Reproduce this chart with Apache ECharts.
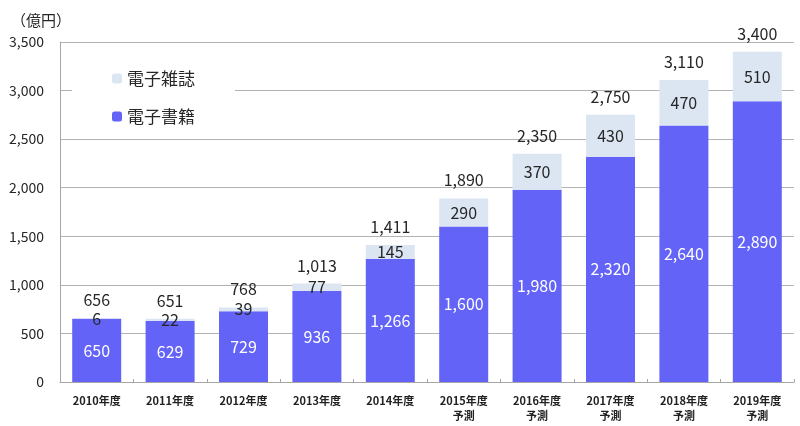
<!DOCTYPE html>
<html><head><meta charset="utf-8">
<script src="https://cdn.jsdelivr.net/npm/echarts@6/dist/echarts.min.js"></script>
<style>html,body{margin:0;padding:0;background:#fff}#c{width:800px;height:426px}</style>
</head><body><div id="c"></div>
<script>
const categories = ['2010年度','2011年度','2012年度','2013年度','2014年度','2015年度\n予測','2016年度\n予測','2017年度\n予測','2018年度\n予測','2019年度\n予測'];
const ebooks = [650, 629, 729, 936, 1266, 1600, 1980, 2320, 2640, 2890];
const emagazines = [6, 22, 39, 77, 145, 290, 370, 430, 470, 510];
const totals = [656, 651, 768, 1013, 1411, 1890, 2350, 2750, 3110, 3400];

const FONT = '"Noto Sans CJK JP", "Noto Sans", sans-serif';
const fmt = v => Number(v).toLocaleString('en-US');
const chart = echarts.init(document.getElementById('c'), null, {renderer:'canvas'});
chart.setOption({
  animation: false,
  textStyle: {fontFamily: FONT},
  grid: {left: 60, right: 6, top: 42, bottom: 44, containLabel: false},
  legend: {
    data: ['電子雑誌', '電子書籍'],
    orient: 'vertical', left: 72, top: 50,
    backgroundColor: '#ffffff',
    padding: [20, 40, 14, 40],
    itemWidth: 10, itemHeight: 10, itemGap: 21,
    textStyle: {fontSize: 17, color: '#262626', fontFamily: FONT}
  },
  xAxis: {
    type: 'category', data: categories,
    axisLine: {lineStyle: {color: '#a6a6a6', width: 1}},
    axisTick: {show: true, inside: true, length: 3, lineStyle: {color: '#a6a6a6'}},
    axisLabel: {fontSize: 11, fontWeight: 'bold', color: '#222', margin: 11, lineHeight: 15, fontFamily: FONT}
  },
  yAxis: {
    type: 'value', min: 0, max: 3500, interval: 500,
    name: '（億円）', nameLocation: 'end', nameGap: 14,
    nameTextStyle: {fontSize: 15, color: '#262626', align: 'center', padding: [0, 38, 0, 0]},
    axisLine: {show: true, lineStyle: {color: '#a6a6a6'}},
    axisTick: {show: false},
    splitLine: {lineStyle: {color: '#b3b3b3', width: 1}},
    axisLabel: {fontSize: 14, color: '#262626', margin: 16, formatter: v => fmt(v)}
  },
  series: [
    {
      name: '電子書籍', type: 'bar', stack: 's', barWidth: 49, data: ebooks,
      itemStyle: {color: '#6363f8'},
      label: {show: true, position: 'inside', color: '#ffffff', fontSize: 16, formatter: p => fmt(p.value)}
    },
    {
      name: '電子雑誌', type: 'bar', stack: 's', barWidth: 49, data: emagazines,
      itemStyle: {color: '#dce6f2'},
      label: {show: true, position: 'inside', color: '#262626', fontSize: 16, formatter: p => fmt(p.value)}
    },
    {
      name: '合計', type: 'bar', barWidth: 49, barGap: '-100%', data: totals, z: 1,
      itemStyle: {color: 'rgba(0,0,0,0)'},
      label: {show: true, position: 'top', distance: 10, color: '#262626', fontSize: 16, formatter: p => fmt(p.value)}
    }
  ]
});
</script></body></html>
